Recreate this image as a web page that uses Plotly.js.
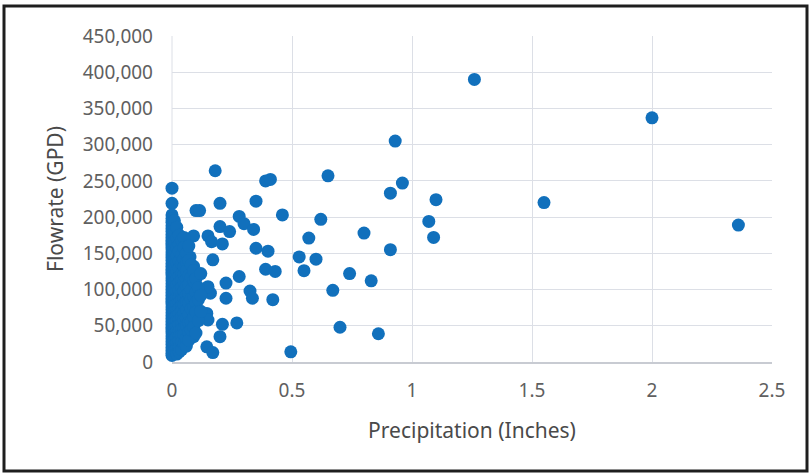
<!DOCTYPE html>
<html>
<head>
<meta charset="utf-8">
<script src="https://cdn.plot.ly/plotly-3.0.1.min.js"></script>
<style>
html,body{margin:0;padding:0;background:#fff;}
#chart{width:810px;height:475px;}
</style>
</head>
<body>
<div id="chart"></div>
<script>
// Precipitation (inches) and flowrate (GPD)
const precipitation = [
  // scattered points
  1.26, 2.00, 2.36, 1.55,
  0.93, 0.96, 0.91, 1.10, 1.07, 1.09, 0.91, 0.86,
  0.18, 0.39, 0.41, 0.65,
  0.20, 0.35, 0.10, 0.115, 0.46, 0.62, 0.28, 0.30, 0.34, 0.20, 0.24,
  0.80, 0.57, 0.09, 0.15, 0.165, 0.21, 0.35, 0.40, 0.53, 0.60, 0.39, 0.43, 0.55, 0.74, 0.83, 0.67,
  0.28, 0.225, 0.17, 0.325, 0.335, 0.225, 0.42, 0.16, 0.145, 0.15, 0.27, 0.21, 0.20, 0.09, 0.145, 0.17,
  0.70, 0.495, 0.075, 0.09, 0.15,
  // dense column at zero
  0,0,0,0,0,0,0,0,0,0,0,0,0,0,0,0,0,0,0,0,0,0,0,0,0,0,0,0,0,0,0,0,0,0,0,0,0,0,0,0,0,0,0,0,0,0,0,0,0,0,0,
  0.01,0.01,0.01,0.01,0.01,0.01,0.01,0.01,0.01,0.01,0.01,0.01,0.01,0.01,0.01,0.01,0.01,0.01,0.01,0.01,
  0.02,0.02,0.02,0.02,0.02,0.02,0.02,0.02,0.02,0.02,0.02,0.02,0.02,0.02,0.02,0.02,0.02,0.02,0.02,0.02,
  0.03,0.03,0.03,0.03,0.03,0.03,0.03,0.03,0.03,0.03,0.03,0.03,0.03,0.03,0.03,0.03,0.03,0.03,0.03,
  0.04,0.04,0.04,0.04,0.04,0.04,0.04,0.04,0.04,0.04,0.04,0.04,0.04,0.04,0.04,0.04,
  0.05,0.05,0.05,0.05,0.05,0.05,0.05,0.05,0.05,0.05,0.05,0.05,0.05,0.05,
  0.06,0.06,0.06,0.06,0.06,0.06,0.06,0.06,0.06,0.06,0.06,0.06,
  0.07,0.07,0.07,0.07,0.07,0.07,0.07,0.07,0.07,0.07,
  0.08,0.08,0.08,0.08,0.08,0.08,0.08,
  0.09,0.09,0.09,0.09,0.09,0.09,
  0.10,0.10,0.10,0.10,0.10,
  0.11,0.11,0.11,
  0.12,0.12,0.12
];
const flowrate = [
  390000, 337000, 189000, 220000,
  305000, 247000, 233000, 224000, 194000, 172000, 155000, 39000,
  264000, 250000, 252000, 257000,
  219000, 222000, 209000, 209000, 203000, 197000, 201000, 191000, 183000, 187000, 180000,
  178000, 171000, 174000, 174000, 166000, 163000, 157000, 153000, 145000, 142000, 128000, 125000, 126000, 122000, 112000, 99000,
  118000, 109000, 141000, 98000, 88000, 88000, 86000, 95000, 67000, 58000, 54000, 52000, 35000, 35000, 21000, 13000,
  48000, 14000, 145000, 132000, 104000,
  240000, 219000, 203000, 198000, 193000, 188000, 184000, 180000, 176000, 172000, 168000, 164000, 160000, 156000, 152000, 148000, 144000,
  140000, 136000, 132000, 128000, 124000, 120000, 116000, 112000, 108000, 104000, 100000, 96000, 92000, 88000, 84000, 80000, 76000,
  72000, 68000, 64000, 60000, 56000, 52000, 48000, 44000, 40000, 36000, 32000, 28000, 24000, 20000, 16000, 12000, 9000,
  195000, 178000, 166000, 150000, 141000, 133000, 119000, 110000, 101000, 93000, 85000, 77000, 69000, 61000, 54000, 47000, 39000, 31000, 23000, 15000,
  186000, 171000, 158000, 146000, 137000, 126000, 115000, 106000, 97000, 89000, 80000, 71000, 63000, 57000, 49000, 42000, 34000, 26000, 18000, 11000,
  175000, 162000, 153000, 139000, 129000, 118000, 109000, 99000, 90000, 82000, 74000, 66000, 58000, 51000, 43000, 36000, 29000, 21000, 14000,
  168000, 148000, 135000, 122000, 113000, 103000, 94000, 86000, 78000, 70000, 62000, 53000, 45000, 37000, 27000, 17000,
  172000, 158000, 142000, 131000, 121000, 111000, 98000, 88000, 79000, 67000, 59000, 46000, 38000, 25000,
  150000, 137000, 126000, 114000, 104000, 92000, 83000, 72000, 60000, 50000, 33000, 22000,
  160000, 140000, 119000, 107000, 95000, 81000, 65000, 55000, 41000, 30000,
  134000, 117000, 100000, 87000, 73000, 56000, 44000,
  126000, 112000, 90000, 76000, 62000, 48000,
  115000, 96000, 82000, 69000, 40000,
  103000, 86000, 57000,
  122000, 92000, 70000
];
const xTitle = "Precipitation (Inches)";
const yTitle = "Flowrate (GPD)";

const trace = {
  type: 'scatter',
  mode: 'markers',
  x: precipitation,
  y: flowrate,
  cliponaxis: false,
  marker: {color: '#1170bc', size: 13, line: {width: 0}},
  hoverinfo: 'x+y'
};

const L = 172, R = 38, T = 36, B = 113, W = 810, H = 475;
const pw = W - L - R, ph = H - T - B;
const px = v => (v - L) / pw;
const py = v => (H - B - v) / ph;

const layout = {
  width: W, height: H,
  margin: {l: L, r: R, t: T, b: B, pad: 0},
  paper_bgcolor: '#ffffff',
  plot_bgcolor: '#ffffff',
  showlegend: false,
  font: {family: '"Noto Sans", "Open Sans", sans-serif', color: '#595959'},
  xaxis: {
    range: [0, 2.5],
    dtick: 0.5,
    tick0: 0,
    showgrid: true,
    gridcolor: '#dcdfe6',
    gridwidth: 1,
    zeroline: false,
    showline: true,
    linecolor: '#c8cbd2',
    linewidth: 1.5,
    ticks: '',
    ticklabelstandoff: 11,
    tickfont: {size: 19, color: '#606060'},
    title: {text: xTitle, font: {size: 21, color: '#4a4a4a'}, standoff: 21},
    fixedrange: true
  },
  yaxis: {
    range: [0, 450000],
    dtick: 50000,
    tick0: 0,
    tickformat: ',d',
    showgrid: true,
    gridcolor: '#dcdfe6',
    gridwidth: 1,
    zeroline: false,
    showline: false,
    ticks: '',
    ticklabelstandoff: 18,
    tickfont: {size: 19, color: '#606060'},
    title: {text: yTitle, font: {size: 21, color: '#4a4a4a'}, standoff: 13},
    fixedrange: true
  },
  shapes: [
    {type: 'line', xref: 'paper', yref: 'paper', x0: 0, x1: 0, y0: 0, y1: 1,
     line: {color: '#dcdfe6', width: 1}, layer: 'below'},
    {type: 'rect', xref: 'paper', yref: 'paper',
     x0: px(4), x1: px(807), y0: py(471), y1: py(6),
     line: {color: '#1e1e1e', width: 3}, fillcolor: 'rgba(0,0,0,0)'}
  ]
};

Plotly.newPlot('chart', [trace], layout, {displayModeBar: false, staticPlot: true});
</script>
</body>
</html>
